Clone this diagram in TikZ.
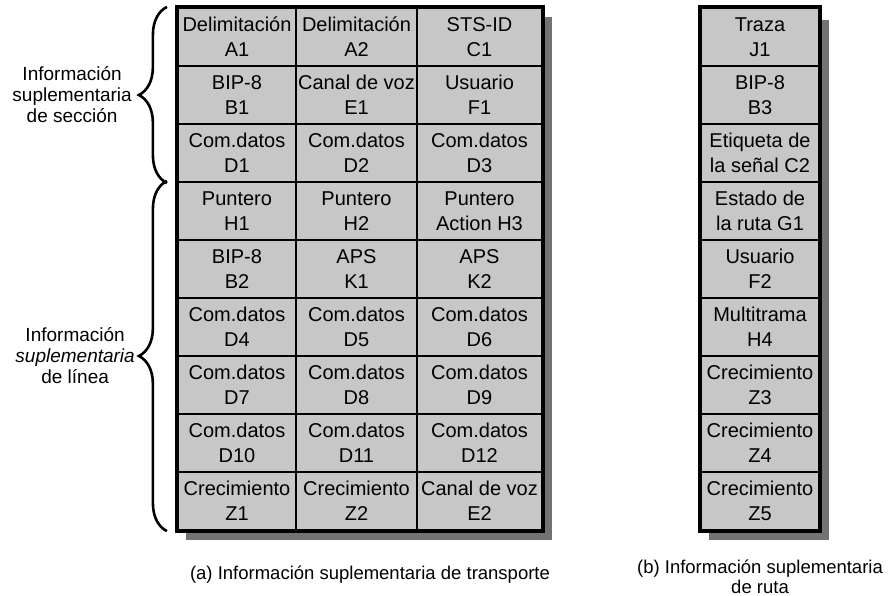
\documentclass[tikz,border=0pt]{standalone}
\usepackage{fontspec}
\setmainfont{Liberation Sans}
\usetikzlibrary{decorations.pathreplacing,backgrounds}

\tikzset{
	cell/.style={draw, line width=2.2pt, fill=black!22, minimum height=58pt, inner sep=0pt, align=center, font=\fontsize{20}{25}\selectfont},
	shadowbox/.style={fill=black!55},
	sidetext/.style={align=center, inner sep=0pt, font=\fontsize{19}{21}\selectfont},
	captext/.style={align=center, inner sep=0pt, font=\fontsize{18.5}{20}\selectfont},
	brc/.style={decorate, decoration={brace, amplitude=28pt}, line width=2.6pt},
}

\begin{document}
\begin{tikzpicture}[x=1pt, y=-1pt]
	\useasboundingbox (0,0) rectangle (890,596);
	% (a) transporte
	\foreach \i/\ta/\tb/\tc [evaluate=\i as \yc using 58*\i-21] in {
		1/{Delimitación\\A1}/{Delimitación\\A2}/{STS-ID\\C1},
		2/{BIP-8\\B1}/{Canal de voz\\E1}/{Usuario\\F1},
		3/{Com.datos\\D1}/{Com.datos\\D2}/{Com.datos\\D3},
		4/{Puntero\\H1}/{Puntero\\H2}/{Puntero\\Action H3},
		5/{BIP-8\\B2}/{APS\\K1}/{APS\\K2},
		6/{Com.datos\\D4}/{Com.datos\\D5}/{Com.datos\\D6},
		7/{Com.datos\\D7}/{Com.datos\\D8}/{Com.datos\\D9},
		8/{Com.datos\\D10}/{Com.datos\\D11}/{Com.datos\\D12},
		9/{Crecimiento\\Z1}/{Crecimiento\\Z2}/{Canal de voz\\E2}} {
		\node[cell, minimum width=118pt] (a-\i-1) at (237,\yc) {\ta};
		\node[cell, minimum width=121pt] (a-\i-2) at (356.5,\yc) {\tb};
		\node[cell, minimum width=125pt] (a-\i-3) at (479.5,\yc) {\tc};
	}
	% (b) ruta
	\foreach \i/\t [evaluate=\i as \yc using 58*\i-21] in {
		1/{Traza\\J1}, 2/{BIP-8\\B3}, 3/{Etiqueta de\\la señal C2},
		4/{Estado de\\la ruta G1}, 5/{Usuario\\F2}, 6/{Multitrama\\H4},
		7/{Crecimiento\\Z3}, 8/{Crecimiento\\Z4}, 9/{Crecimiento\\Z5}} {
		\node[cell, minimum width=118pt] (b-\i) at (760,\yc) {\t};
	}
	\draw[line width=3pt] (a-1-1.north west) rectangle (a-9-3.south east);
	\draw[line width=3pt] (b-1.north west) rectangle (b-9.south east);
	\begin{scope}[on background layer]
		\fill[shadowbox] ([shift={(9,10)}]a-1-1.north west) rectangle ([shift={(9,9)}]a-9-3.south east);
		\fill[shadowbox] ([shift={(9,13)}]b-1.north west) rectangle ([shift={(9,9)}]b-9.south east);
	\end{scope}
	% llaves
	\draw[brc] ([xshift=-10pt]a-3-1.south west) -- ([xshift=-10pt]a-1-1.north west);
	\draw[brc] ([xshift=-10pt]a-9-1.south west) -- ([xshift=-10pt]a-4-1.north west);
	\node[sidetext, anchor=east] (sec) at (132,95) {Información\\suplementaria\\de sección};
	\node[sidetext, anchor=east] (lin) at (135,356) {Información\\\textit{suplementaria}\\de línea};
	\node[captext] (capa) at (370,575) {(a) Información suplementaria de transporte};
	\node[captext, anchor=south] (capb) at (760,594) {(b) Información suplementaria\\de ruta};
\end{tikzpicture}
\end{document}
